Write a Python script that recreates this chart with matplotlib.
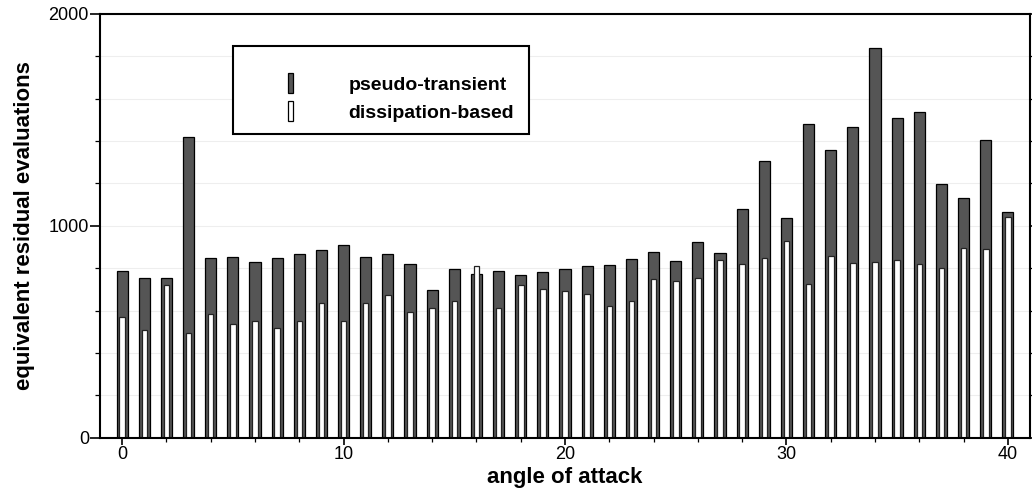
import numpy as np
import matplotlib
matplotlib.use('Agg')
import matplotlib.pyplot as plt
from matplotlib.patches import Patch, Rectangle
from matplotlib.legend_handler import HandlerPatch
from matplotlib.ticker import MultipleLocator

plt.rcParams['font.family'] = ['Liberation Sans', 'DejaVu Sans']

# angle of attack (degrees)
angles = np.arange(0, 41)

# equivalent residual evaluations per solver
pseudo_transient = [788, 755, 755, 1418, 848, 854, 831, 846, 868, 884,
                    909, 851, 868, 821, 698, 798, 774, 785, 769, 782,
                    798, 812, 816, 845, 876, 832, 925, 873, 1078, 1304,
                    1035, 1483, 1357, 1467, 1838, 1510, 1535, 1198, 1133, 1403,
                    1067]
dissipation_based = [569, 506, 722, 496, 585, 537, 552, 520, 553, 638,
                     550, 635, 675, 591, 614, 645, 810, 613, 723, 700,
                     692, 676, 623, 646, 747, 741, 756, 837, 821, 850,
                     928, 725, 857, 826, 829, 840, 818, 802, 895, 890,
                     1040]

series_labels = ['pseudo-transient', 'dissipation-based']


class NarrowBar(HandlerPatch):
    """Legend key drawn as a thin upright bar."""
    def create_artists(self, legend, orig_handle, xdescent, ydescent,
                       width, height, fontsize, trans):
        p = Rectangle((-xdescent, -ydescent), width, height,
                      facecolor=orig_handle.get_facecolor(),
                      edgecolor='black', lw=0.9, transform=trans)
        return [p]


fig = plt.figure(figsize=(10.32, 4.94), dpi=100)
ax = fig.add_axes([0.0969, 0.114, 0.9012, 0.8577])

ax.bar(angles, pseudo_transient, width=0.5, color='#555555',
       edgecolor='black', linewidth=0.9, zorder=2)
ax.bar(angles, dissipation_based, width=0.25, color='white',
       edgecolor='#222222', linewidth=0.9, zorder=3)

ax.set_xlim(-1, 41)
ax.set_ylim(0, 2000)

ax.xaxis.set_major_locator(MultipleLocator(10))
ax.xaxis.set_minor_locator(MultipleLocator(2))
ax.yaxis.set_major_locator(MultipleLocator(1000))
ax.yaxis.set_minor_locator(MultipleLocator(200))

ax.grid(axis='y', which='both', color='#eeeeee', linewidth=0.8, zorder=0)
ax.set_axisbelow(True)

for s in ax.spines.values():
    s.set_linewidth(1.5)
    s.set_zorder(5)

ax.tick_params(axis='y', which='major', direction='out', length=7, width=1.2,
               labelsize=13, right=True, pad=1)
ax.tick_params(axis='y', which='minor', direction='out', length=3.5, width=0.9,
               right=True)
ax.tick_params(axis='x', which='major', direction='out', length=5, width=1.2,
               labelsize=13, pad=1)
ax.tick_params(axis='x', which='minor', direction='out', length=3, width=0.9)

ax.set_xlabel('angle of attack', fontsize=16, fontweight='bold', labelpad=3)
ax.set_ylabel('equivalent residual evaluations', fontsize=16,
              fontweight='bold', labelpad=10)

# legend frame and entries
ax.add_patch(Rectangle((0.1427, 0.7168), 0.3189, 0.2077, transform=ax.transAxes,
                       facecolor='white', edgecolor='black', linewidth=1.5,
                       zorder=6))
handles = [Patch(facecolor='#555555'), Patch(facecolor='white')]
leg = ax.legend(handles, series_labels, loc='upper left',
                bbox_to_anchor=(0.2022, 0.860), borderaxespad=0, borderpad=0,
                frameon=False, handlelength=0.27, handleheight=1.2,
                handletextpad=2.85, labelspacing=0.38,
                prop={'size': 14, 'weight': 'bold'},
                handler_map={Patch: NarrowBar()})
leg.set_zorder(7)

fig.savefig('out.png', dpi=100)
